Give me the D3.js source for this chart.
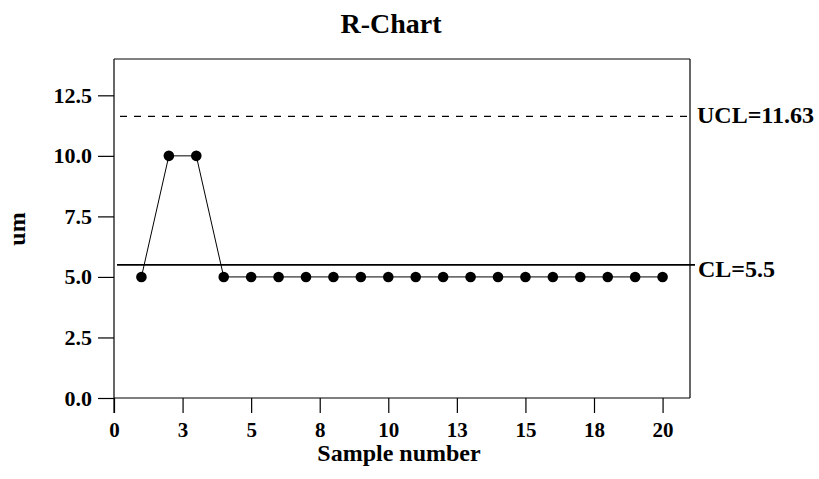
<!doctype html>
<html>
<meta charset="utf-8">
<style>
body { margin: 0; padding: 0; background: #fff; }
text { font-family: 'Liberation Serif', 'Times New Roman', serif; font-weight: bold; }
</style>
<body>
<svg width="819" height="479"></svg>
<script src="https://cdn.jsdelivr.net/npm/d3@7"></script>
<script>

// sample ranges, one per sample
var samples = d3.range(1, 21);
var ranges = [5, 10, 10, 5, 5, 5, 5, 5, 5, 5, 5, 5, 5, 5, 5, 5, 5, 5, 5, 5];
var ucl = 11.63, cl = 5.5;

var xTicks = [0, 2.5, 5, 7.5, 10, 12.5, 15, 17.5, 20];
var xTickLabels = ["0", "3", "5", "8", "10", "13", "15", "18", "20"];
var yTicks = [0, 2.5, 5, 7.5, 10, 12.5];

var svg = d3.select("svg");
var plotL = 114, plotR = 690, plotT = 59, plotB = 398;

var x = d3.scaleLinear().domain([0, 21]).range([plotL, plotR]);
var y = d3.scaleLinear().domain([0, 14]).range([plotB, plotT]);

// frame: gray top, black right
svg.append("line").attr("x1", plotL).attr("x2", plotR).attr("y1", plotT).attr("y2", plotT)
    .attr("stroke", "#808080").attr("stroke-width", 2);
svg.append("line").attr("x1", plotR).attr("x2", plotR).attr("y1", plotT).attr("y2", plotB)
    .attr("stroke", "#000").attr("stroke-width", 1.2);

// x axis
var xAxis = d3.axisBottom(x).tickValues(xTicks).tickSize(15).tickPadding(9)
    .tickFormat(function(d, i) { return xTickLabels[i]; });
var gx = svg.append("g").attr("transform", "translate(0," + plotB + ")").call(xAxis);
gx.select(".domain").attr("d", "M" + plotL + ",0H" + plotR).attr("stroke-width", 1.2);
gx.selectAll(".tick line").attr("stroke-width", 1.2);
gx.selectAll("text").style("font-size", "21px").attr("fill", "#000");

// y axis
var yAxis = d3.axisLeft(y).tickValues(yTicks).tickSize(16).tickPadding(6)
    .tickFormat(d3.format(".1f"));
var gy = svg.append("g").attr("transform", "translate(" + plotL + ",0)").call(yAxis);
gy.select(".domain").attr("d", "M0," + plotT + "V" + (plotB + 15)).attr("stroke-width", 1.2);
gy.selectAll(".tick line").attr("stroke-width", 1.2);
gy.selectAll("text").style("font-size", "22px").attr("fill", "#000");

// control lines
svg.append("line").attr("x1", plotL + 6).attr("x2", plotR).attr("y1", y(ucl)).attr("y2", y(ucl))
    .attr("stroke", "#000").attr("stroke-width", 1.3).attr("stroke-dasharray", "7,7");
svg.append("line").attr("x1", plotL + 3).attr("x2", plotR + 5).attr("y1", y(cl)).attr("y2", y(cl))
    .attr("stroke", "#000").attr("stroke-width", 1.8);

svg.append("text").attr("x", plotR + 7).attr("y", y(ucl) + 7).style("font-size", "24px").text("UCL=11.63");
svg.append("text").attr("x", plotR + 8).attr("y", y(cl) + 12).style("font-size", "24px").text("CL=5.5");

// data
var line = d3.line().x(function(d, i) { return x(samples[i]); }).y(function(d) { return y(d); });
svg.append("path").datum(ranges).attr("d", line).attr("fill", "none")
    .attr("stroke", "#000").attr("stroke-width", 1);
svg.selectAll("circle").data(ranges).enter().append("circle")
    .attr("cx", function(d, i) { return x(samples[i]); })
    .attr("cy", function(d) { return y(d); })
    .attr("r", 5.3).attr("fill", "#000");

// titles
svg.append("text").attr("x", 391).attr("y", 33).attr("text-anchor", "middle")
    .style("font-size", "28px").text("R-Chart");
svg.append("text").attr("x", 399).attr("y", 461).attr("text-anchor", "middle")
    .style("font-size", "24px").text("Sample number");
svg.append("text").attr("transform", "translate(25,229) rotate(-90)")
    .attr("text-anchor", "middle").style("font-size", "24px").text("um");

</script>
</body>
</html>
